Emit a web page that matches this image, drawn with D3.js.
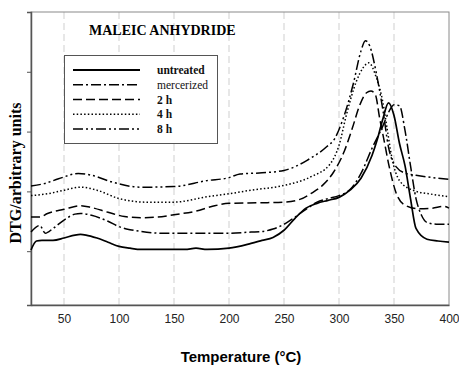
<!DOCTYPE html>
<html>
<head>
<meta charset="utf-8">
<script src="https://cdn.jsdelivr.net/npm/d3@7"></script>
<style>
  body { margin: 0; background: #fff; }
  svg { display: block; }
</style>
</head>
<body>
<div id="chart"></div>
<script>
// temperature (°C) and DTG values in arbitrary units
const untreatedT = [20, 25, 30, 40, 50, 60, 65, 70, 80, 90, 100, 110, 120, 140, 160, 170, 180, 200, 220, 230, 240, 250, 260, 270, 280, 290, 300, 310, 320, 330, 335, 340, 345, 350, 355, 360, 365, 370, 380, 390, 400];
const untreatedV = [0.02, 0.17, 0.18, 0.18, 0.22, 0.27, 0.28, 0.27, 0.22, 0.15, 0.08, 0.05, 0.03, 0.03, 0.03, 0.05, 0.03, 0.05, 0.13, 0.18, 0.23, 0.35, 0.55, 0.72, 0.80, 0.85, 0.90, 1.02, 1.22, 1.60, 1.88, 2.22, 2.48, 2.27, 1.80, 1.43, 0.88, 0.38, 0.20, 0.17, 0.15];

const mercerizedT = [20, 28, 33, 40, 50, 60, 65, 75, 90, 100, 110, 120, 140, 160, 180, 200, 220, 230, 240, 250, 260, 270, 280, 290, 300, 310, 320, 330, 340, 345, 350, 355, 360, 365, 370, 375, 380, 390, 400];
const mercerizedV = [0.32, 0.43, 0.30, 0.38, 0.52, 0.62, 0.63, 0.60, 0.50, 0.41, 0.36, 0.33, 0.30, 0.30, 0.30, 0.30, 0.32, 0.33, 0.37, 0.45, 0.57, 0.70, 0.82, 0.88, 0.93, 1.03, 1.30, 1.72, 2.10, 2.32, 2.45, 2.43, 2.02, 1.43, 0.88, 0.60, 0.48, 0.45, 0.45];

const h2T = [20, 28, 35, 50, 65, 75, 90, 105, 120, 135, 150, 170, 185, 200, 230, 250, 265, 275, 285, 295, 305, 312, 319, 325, 329, 333, 337, 341, 345, 352, 360, 372, 385, 395, 400];
const h2V = [0.57, 0.57, 0.63, 0.70, 0.76, 0.73, 0.65, 0.58, 0.56, 0.57, 0.61, 0.67, 0.75, 0.80, 0.81, 0.82, 0.87, 0.97, 1.10, 1.32, 1.68, 2.05, 2.45, 2.65, 2.68, 2.62, 2.22, 1.85, 1.47, 0.97, 0.77, 0.71, 0.72, 0.75, 0.72];

const h4T = [20, 35, 50, 65, 80, 100, 125, 150, 180, 200, 220, 250, 274, 292, 300, 307, 316, 322, 327, 334, 340, 344, 348, 355, 367, 385, 400];
const h4V = [0.93, 0.96, 1.02, 1.07, 1.02, 0.88, 0.82, 0.82, 0.91, 0.96, 1.02, 1.10, 1.24, 1.46, 1.77, 2.30, 2.85, 3.07, 3.15, 2.90, 2.48, 2.02, 1.57, 1.18, 1.02, 0.95, 0.91];

const h8T = [20, 32, 45, 63, 75, 93, 120, 150, 180, 200, 210, 230, 250, 262, 271, 289, 296, 304, 313, 320, 324, 328, 334, 340, 345, 352, 361, 370, 400];
const h8V = [1.09, 1.13, 1.21, 1.30, 1.27, 1.16, 1.07, 1.08, 1.18, 1.23, 1.29, 1.31, 1.35, 1.43, 1.52, 1.75, 1.88, 2.23, 2.80, 3.35, 3.52, 3.43, 2.97, 2.35, 1.74, 1.41, 1.30, 1.27, 1.20];

const seriesNames = ["untreated", "mercerized", "2 h", "4 h", "8 h"];
const seriesBold = [true, false, true, true, true];
const seriesDash = [null, "10,3,2,3", "9,4", "1.5,2.2", "10,3,2,3,2,3"];
const xTicks = [50, 100, 150, 200, 250, 300, 350, 400];
const yTicks = [0, 1, 2, 3];

const width = 459, height = 367;
const padding = { top: 12, right: 10, bottom: 62, left: 31 };

const svg = d3.select("#chart").append("svg")
  .attr("width", width)
  .attr("height", height);

const xscale = d3.scaleLinear()
  .domain([20, 400])
  .range([padding.left, width - padding.right]);

const yscale = d3.scaleLinear()
  .domain([-0.9, 4])
  .range([height - padding.bottom, padding.top]);

// dashed vertical grid lines
svg.append("g")
  .selectAll("line")
  .data(xTicks.filter(d => d < 400))
  .enter().append("line")
  .attr("x1", d => xscale(d)).attr("x2", d => xscale(d))
  .attr("y1", yscale(4)).attr("y2", yscale(-0.9))
  .attr("stroke", "#cfcfcf")
  .attr("stroke-width", 1)
  .attr("stroke-dasharray", "7,4");

// frame top/right
svg.append("rect")
  .attr("x", xscale(20)).attr("y", yscale(4))
  .attr("width", xscale(400) - xscale(20))
  .attr("height", yscale(-0.9) - yscale(4))
  .attr("fill", "none")
  .attr("stroke", "#8a8a8a")
  .attr("stroke-width", 1);

// x axis
const xAxis = svg.append("g")
  .attr("transform", "translate(0," + yscale(-0.9) + ")")
  .call(d3.axisBottom(xscale).tickValues(xTicks).tickSize(0).tickPadding(9));
xAxis.select(".domain").attr("stroke", "#555").attr("stroke-width", 1.5);
xAxis.selectAll("text")
  .style("font-family", "Arial, 'Liberation Sans', sans-serif")
  .style("font-size", "12px")
  .attr("fill", "#222");

// y axis, ticks only
const yAxis = svg.append("g")
  .attr("transform", "translate(" + xscale(20) + ",0)")
  .call(d3.axisLeft(yscale).tickValues(yTicks).tickSize(4).tickFormat(""));
yAxis.select(".domain").attr("stroke", "#555").attr("stroke-width", 1.5);
yAxis.selectAll(".tick line").attr("stroke", "#555");

// curves
const valueline = d3.line()
  .x(d => xscale(d[0]))
  .y(d => yscale(d[1]))
  .curve(d3.curveMonotoneX);

const allT = [untreatedT, mercerizedT, h2T, h4T, h8T];
const allV = [untreatedV, mercerizedV, h2V, h4V, h8V];

allT.forEach((ts, i) => {
  const pts = ts.map((t, j) => [t, allV[i][j]]);
  svg.append("path")
    .datum(pts)
    .attr("fill", "none")
    .attr("stroke", "#000")
    .attr("stroke-width", i === 0 ? 1.7 : 1.5)
    .attr("stroke-dasharray", seriesDash[i])
    .attr("d", valueline);
});

// title
svg.append("text")
  .attr("x", 89).attr("y", 35)
  .style("font-family", "'Times New Roman', 'Liberation Serif', serif")
  .style("font-weight", "bold")
  .style("font-size", "14px")
  .text("MALEIC ANHYDRIDE");

// legend
const legend = svg.append("g");
legend.append("rect")
  .attr("x", 64.5).attr("y", 55.5)
  .attr("width", 153).attr("height", 88)
  .attr("fill", "#fff")
  .attr("stroke", "#555")
  .attr("stroke-width", 1);

const rows = legend.selectAll("g.row")
  .data(seriesNames)
  .enter().append("g")
  .attr("transform", (d, i) => "translate(0," + (70 + i * 14.75) + ")");

rows.append("line")
  .attr("x1", 73).attr("x2", 140)
  .attr("y1", 0).attr("y2", 0)
  .attr("stroke", "#000")
  .attr("stroke-width", (d, i) => i === 0 ? 1.8 : 1.5)
  .attr("stroke-dasharray", (d, i) => seriesDash[i]);

rows.append("text")
  .attr("x", 157).attr("y", 4)
  .style("font-family", "'Times New Roman', 'Liberation Serif', serif")
  .style("font-size", "11.5px")
  .style("font-weight", (d, i) => seriesBold[i] ? "bold" : "normal")
  .attr("fill", "#111")
  .text(d => d);

// axis titles
svg.append("text")
  .attr("x", (xscale(20) + xscale(400)) / 2 + 1)
  .attr("y", 362)
  .attr("text-anchor", "middle")
  .style("font-family", "Arial, 'Liberation Sans', sans-serif")
  .style("font-weight", "bold")
  .style("font-size", "15px")
  .text("Temperature (°C)");

svg.append("text")
  .attr("transform", "translate(21,173) rotate(-90)")
  .attr("text-anchor", "middle")
  .style("font-family", "'Times New Roman', 'Liberation Serif', serif")
  .style("font-weight", "bold")
  .style("font-size", "16px")
  .text("DTG/arbitrary units");
</script>
</body>
</html>
